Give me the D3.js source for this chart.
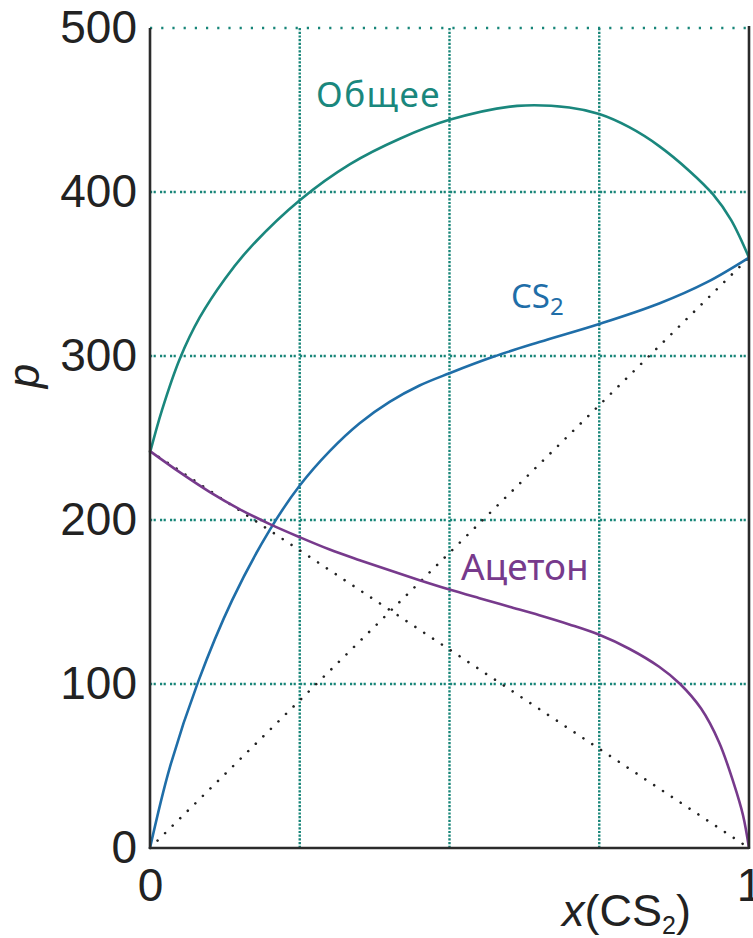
<!DOCTYPE html>
<html>
<head>
<meta charset="utf-8">
<script src="https://cdn.jsdelivr.net/npm/d3@7"></script>
<style>
  body { margin: 0; background: #fff; }
  svg { display: block; }
  .tick text { font-family: "Liberation Sans", Arial, sans-serif; fill: #222; }
</style>
</head>
<body>
<div id="chart"></div>
<script>
// values
const xTicks = [0, 1];
const yTicks = [0, 100, 200, 300, 400, 500];
const xGrid = [0.25, 0.5, 0.75];
const yGrid = [100, 200, 300, 400];

const totalX = [0, 0.02, 0.05, 0.083, 0.125, 0.167, 0.25, 0.334, 0.417, 0.5, 0.613, 0.7, 0.75, 0.8, 0.85, 0.9, 0.94, 0.97, 1];
const totalP = [241, 267, 298.5, 323.5, 347, 366, 395, 417, 432.5, 444, 452.5, 451.5, 447.5, 439.5, 428, 413, 398.5, 383, 360];

const cs2X = [0, 0.033, 0.08, 0.137, 0.2, 0.25, 0.3, 0.35, 0.4, 0.45, 0.5, 0.573, 0.65, 0.75, 0.85, 0.93, 1];
const cs2P = [0, 49, 101, 151, 194, 221, 242, 259, 272, 282, 289.5, 299.5, 308.5, 319.5, 332, 345, 360];

const acetX = [0, 0.05, 0.1, 0.15, 0.2, 0.25, 0.3, 0.35, 0.4, 0.45, 0.5, 0.55, 0.6, 0.65, 0.7, 0.75, 0.8, 0.85, 0.885, 0.92, 0.95, 0.974, 0.99, 1];
const acetP = [242, 229, 217, 206.5, 197.5, 189.5, 182, 175.5, 169.3, 163.3, 157.6, 152.3, 147.1, 141.9, 136.3, 130, 121.5, 110.5, 100, 85, 64.5, 40, 20, 0];

// ideal (Raoult) lines
const idealCS2 = [[0, 0], [1, 360]];
const idealAcet = [[0, 242], [1, 0]];

const TEAL = '#1a877d';
const GRID = '#178578';
const BLUE = '#1f6ea8';
const PURPLE = '#773a8c';

const W = 753, H = 938;
const MARGIN_LEFT = 150, MARGIN_RIGHT = 4, MARGIN_TOP = 28, MARGIN_BOTTOM = 90;

const svg = d3.select('#chart').append('svg')
  .attr('width', W).attr('height', H);

const x = d3.scaleLinear().domain([0, 1]).range([MARGIN_LEFT, W - MARGIN_RIGHT]);
const y = d3.scaleLinear().domain([0, 500]).range([H - MARGIN_BOTTOM, MARGIN_TOP]);

// grid
const $grid = svg.append('g').attr('class', 'grid')
  .attr('stroke', GRID).attr('stroke-width', 2.4).attr('fill', 'none');

$grid.selectAll('.vgrid').data(xGrid).join('line')
  .attr('x1', d => x(d)).attr('x2', d => x(d))
  .attr('y1', y(500)).attr('y2', y(0))
  .attr('stroke-dasharray', '2.2,1.5');

$grid.selectAll('.hgrid').data(yGrid).join('line')
  .attr('x1', x(0)).attr('x2', x(1))
  .attr('y1', d => y(d)).attr('y2', d => y(d))
  .attr('stroke-dasharray', '2.2,1.4,2.2,4.2');

// top border is a sparse dotted line
$grid.append('line')
  .attr('x1', x(0)).attr('x2', x(1))
  .attr('y1', y(500)).attr('y2', y(500))
  .attr('stroke-dasharray', '2.2,9');

// ideal dotted lines
const line = d3.line().x(d => x(d[0])).y(d => y(d[1]));
svg.append('g').selectAll('path').data([idealCS2, idealAcet]).join('path')
  .attr('d', line)
  .attr('fill', 'none')
  .attr('stroke', '#222')
  .attr('stroke-width', 2.6)
  .attr('stroke-linecap', 'round')
  .attr('stroke-dasharray', '0.01,10.6');

// curves
const curve = d3.line()
  .x(d => x(d[0]))
  .y(d => y(d[1]))
  .curve(d3.curveCatmullRom.alpha(0.5));

const series = [
  { xs: totalX, ps: totalP, color: TEAL },
  { xs: cs2X, ps: cs2P, color: BLUE },
  { xs: acetX, ps: acetP, color: PURPLE }
];

svg.append('g').selectAll('path').data(series).join('path')
  .attr('d', d => curve(d.xs.map((v, i) => [v, d.ps[i]])))
  .attr('fill', 'none')
  .attr('stroke', d => d.color)
  .attr('stroke-width', 2.6);

// spines
const $spines = svg.append('g').attr('stroke', '#2b2b2b').attr('stroke-width', 2.6);
$spines.append('line').attr('x1', x(0)).attr('x2', x(0)).attr('y1', y(500)).attr('y2', y(0) + 1);
$spines.append('line').attr('x1', x(1)).attr('x2', x(1)).attr('y1', y(500) - 2).attr('y2', y(0) + 1);
$spines.append('line').attr('x1', x(0)).attr('x2', x(1)).attr('y1', y(0)).attr('y2', y(0));

// axes
svg.append('g')
  .attr('transform', `translate(${x(0)},0)`)
  .call(d3.axisLeft(y).tickValues(yTicks).tickSize(0).tickPadding(13))
  .call(g => g.select('.domain').remove())
  .selectAll('text').attr('font-size', 46);

svg.append('g')
  .attr('transform', `translate(0,${y(0)})`)
  .call(d3.axisBottom(x).tickValues(xTicks).tickSize(0).tickPadding(20).tickFormat(d3.format('d')))
  .call(g => g.select('.domain').remove())
  .selectAll('text').attr('font-size', 46);

// axis titles
svg.append('text')
  .attr('transform', `translate(39,376) rotate(-90)`)
  .attr('text-anchor', 'middle')
  .attr('font-family', '"Liberation Sans", Arial, sans-serif')
  .attr('font-style', 'italic')
  .attr('font-size', 44)
  .attr('fill', '#222')
  .text('p');

const $xTitle = svg.append('text')
  .attr('x', 562).attr('y', 926)
  .attr('font-family', '"Liberation Sans", Arial, sans-serif')
  .attr('font-size', 45)
  .attr('fill', '#222');
$xTitle.append('tspan').attr('font-style', 'italic').text('x');
$xTitle.append('tspan').text('(CS');
$xTitle.append('tspan').attr('font-size', 25).attr('dy', 8).text('2');
$xTitle.append('tspan').attr('dy', -8).text(')');

// curve labels
const labelFont = '"Noto Sans", "Open Sans", sans-serif';
svg.append('text')
  .attr('x', 316).attr('y', 107)
  .attr('font-family', labelFont).attr('font-size', 35)
  .attr('letter-spacing', 1.5)
  .attr('fill', TEAL)
  .text('Общее');

const $cs2 = svg.append('text')
  .attr('x', 511).attr('y', 308)
  .attr('font-family', labelFont).attr('font-size', 33)
  .attr('fill', BLUE);
$cs2.append('tspan').text('CS');
$cs2.append('tspan').attr('font-size', 24).attr('dy', 7).text('2');

svg.append('text')
  .attr('x', 461).attr('y', 580)
  .attr('font-family', labelFont).attr('font-size', 37)
  .attr('fill', PURPLE)
  .text('Ацетон');
</script>
</body>
</html>
